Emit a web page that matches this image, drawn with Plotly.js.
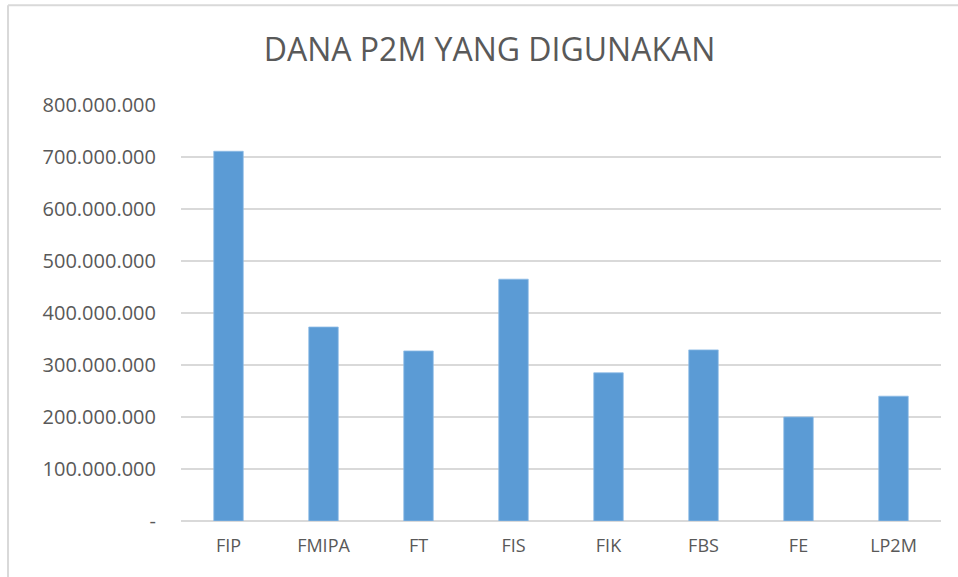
<!DOCTYPE html>
<html>
<head>
<meta charset="utf-8">
<script src="https://cdn.plot.ly/plotly-3.0.1.min.js"></script>
<style>
html,body{margin:0;padding:0;background:#fff;}
#chart{width:958px;height:577px;}
</style>
</head>
<body>
<div id="chart"></div>
<script>
var categories = ["FIP", "FMIPA", "FT", "FIS", "FIK", "FBS", "FE", "LP2M"];
var values = [711000000, 373000000, 327000000, 465000000, 285000000, 329000000, 200000000, 240000000];
var yTickValues = [0, 100000000, 200000000, 300000000, 400000000, 500000000, 600000000, 700000000, 800000000];
var yTickLabels = ["-", "100.000.000", "200.000.000", "300.000.000", "400.000.000", "500.000.000", "600.000.000", "700.000.000", "800.000.000"];
var titleText = "DANA P2M YANG DIGUNAKAN";

var trace = {
  type: "bar",
  x: categories,
  y: values,
  marker: {color: "#5B9BD5", line: {color: "#8DBBE6", width: 0.8}},
  hoverinfo: "x+y"
};

var font = "Open Sans, Noto Sans, sans-serif";
var layout = {
  width: 958,
  height: 577,
  paper_bgcolor: "#ffffff",
  plot_bgcolor: "#ffffff",
  margin: {l: 181, r: 17, t: 105, b: 56, pad: 0},
  showlegend: false,
  bargap: 0.69,
  title: {
    text: titleText,
    font: {family: font, size: 32, color: "#595959"},
    x: 0.511, xanchor: "center",
    y: 0.913, yanchor: "middle"
  },
  xaxis: {
    type: "category",
    showgrid: false,
    showline: false,
    zeroline: false,
    ticks: "",
    ticklabelstandoff: 12,
    tickfont: {family: font, size: 18, color: "#595959"}
  },
  yaxis: {
    range: [0, 800000000],
    tickmode: "array",
    tickvals: yTickValues,
    ticktext: yTickLabels,
    showgrid: true,
    gridcolor: "#D9D9D9",
    gridwidth: 1.5,
    zeroline: true,
    zerolinecolor: "#D9D9D9",
    zerolinewidth: 1.5,
    showline: false,
    ticks: "",
    ticklabelstandoff: 24,
    tickfont: {family: font, size: 20, color: "#595959"}
  },
  shapes: [
    {type: "line", xref: "paper", yref: "paper", x0: -0.2276, x1: 1.03, y0: 1.24, y1: 1.24,
     line: {color: "#D9D9D9", width: 2}},
    {type: "line", xref: "paper", yref: "paper", x0: -0.2276, x1: -0.2276, y0: -0.2, y1: 1.24,
     line: {color: "#D9D9D9", width: 2}}
  ]
};

Plotly.newPlot("chart", [trace], layout, {displayModeBar: false, staticPlot: true});
</script>
</body>
</html>
